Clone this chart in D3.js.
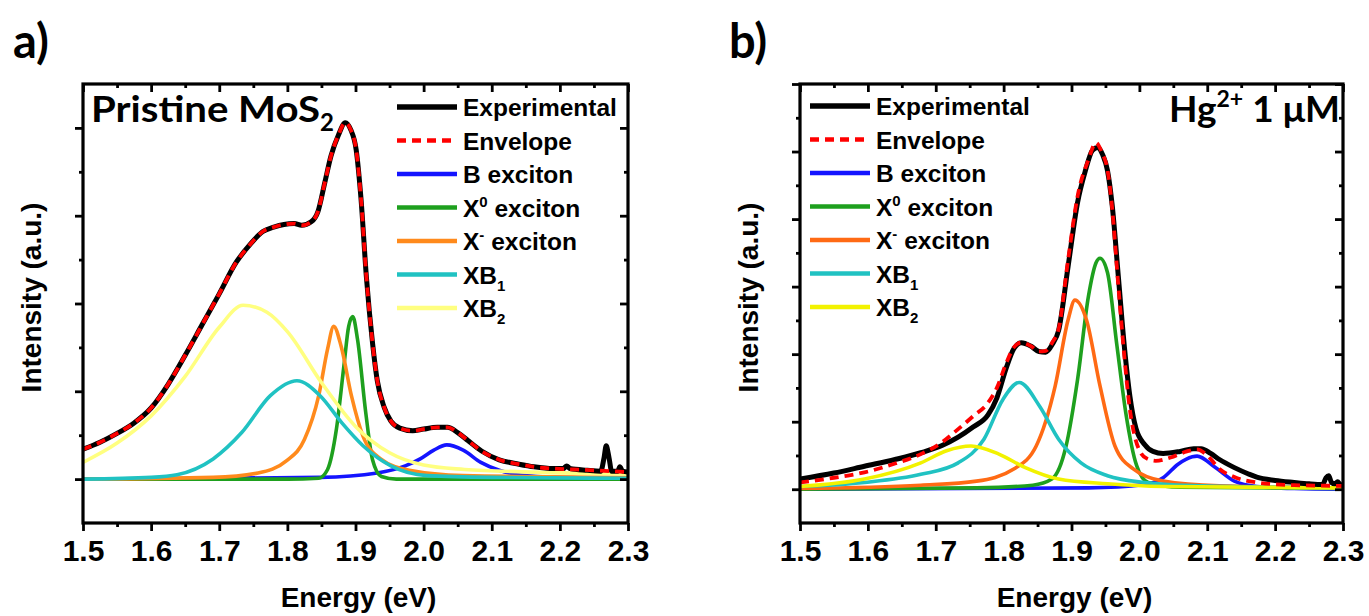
<!DOCTYPE html>
<html><head><meta charset="utf-8">
<script src="https://cdn.jsdelivr.net/npm/d3@7"></script>
<style>body{margin:0;background:#fff;} svg{display:block;}</style>
</head><body><svg id="c" width="1369" height="616"></svg>
<script>
// ---------- DATA ----------
const xTicks = [1.5, 1.6, 1.7, 1.8, 1.9, 2.0, 2.1, 2.2, 2.3];
const xMinorTicks = [1.55, 1.65, 1.75, 1.85, 1.95, 2.05, 2.15, 2.25];
const yDomainA = [-0.5, 4.5];
const yDomainB = [-0.5, 6];

// Panel a: Pristine MoS2  [energy eV, intensity a.u.]
const aExperimental = [[1.5,0.34],[1.525,0.42],[1.55,0.52],[1.575,0.64],[1.6,0.81],[1.625,1.08],[1.65,1.41],[1.675,1.76],[1.7,2.11],[1.725,2.47],[1.745,2.67],[1.764,2.82],[1.78,2.87],[1.795,2.90],[1.81,2.91],[1.821,2.89],[1.835,2.93],[1.845,3.05],[1.855,3.38],[1.864,3.68],[1.875,3.92],[1.885,4.06],[1.893,3.98],[1.901,3.75],[1.908,3.2],[1.916,2.3],[1.925,1.55],[1.932,1.12],[1.942,0.82],[1.952,0.66],[1.965,0.58],[1.984,0.55],[2.0,0.57],[2.02,0.59],[2.035,0.59],[2.05,0.53],[2.065,0.44],[2.085,0.32],[2.111,0.22],[2.14,0.17],[2.162,0.14],[2.19,0.12],[2.205,0.12],[2.21,0.15],[2.215,0.12],[2.24,0.10],[2.26,0.09],[2.265,0.25],[2.268,0.38],[2.272,0.25],[2.276,0.09],[2.285,0.09],[2.288,0.14],[2.292,0.09],[2.3,0.08]];
const aEnvelope = [[1.5,0.34],[1.525,0.42],[1.55,0.52],[1.575,0.64],[1.6,0.81],[1.625,1.08],[1.65,1.41],[1.675,1.76],[1.7,2.11],[1.725,2.47],[1.745,2.67],[1.764,2.82],[1.78,2.87],[1.795,2.90],[1.81,2.91],[1.821,2.89],[1.835,2.93],[1.845,3.05],[1.855,3.38],[1.864,3.68],[1.875,3.92],[1.885,4.06],[1.893,3.98],[1.901,3.75],[1.908,3.2],[1.916,2.3],[1.925,1.55],[1.932,1.12],[1.942,0.82],[1.952,0.66],[1.965,0.58],[1.984,0.55],[2.0,0.57],[2.02,0.59],[2.035,0.59],[2.05,0.53],[2.065,0.44],[2.085,0.32],[2.111,0.22],[2.14,0.17],[2.162,0.14],[2.19,0.12],[2.22,0.11],[2.25,0.10],[2.3,0.08]];
const aBexciton = [[1.5,0.0],[1.7,0.01],[1.848,0.02],[1.932,0.07],[1.973,0.15],[1.995,0.23],[2.015,0.33],[2.034,0.39],[2.058,0.33],[2.084,0.19],[2.111,0.10],[2.14,0.05],[2.2,0.02],[2.3,0.01]];
const aX0 = [[1.5,0.0],[1.8,0.0],[1.846,0.01],[1.859,0.11],[1.872,0.57],[1.883,1.29],[1.890,1.74],[1.896,1.85],[1.903,1.59],[1.915,0.76],[1.925,0.22],[1.938,0.03],[1.96,0.0],[2.3,0.0]];
const aXminus = [[1.5,0.0],[1.691,0.02],[1.757,0.07],[1.799,0.21],[1.825,0.45],[1.846,0.95],[1.859,1.48],[1.868,1.74],[1.879,1.51],[1.894,0.95],[1.911,0.49],[1.937,0.23],[1.979,0.10],[2.058,0.04],[2.3,0.02]];
const aXB1 = [[1.5,0.0],[1.6,0.02],[1.638,0.05],[1.691,0.23],[1.733,0.53],[1.775,0.95],[1.814,1.12],[1.848,0.95],[1.880,0.64],[1.911,0.38],[1.952,0.15],[2.005,0.04],[2.1,0.02],[2.3,0.01]];
const aXB2 = [[1.5,0.19],[1.55,0.41],[1.6,0.72],[1.65,1.17],[1.7,1.73],[1.735,1.98],[1.77,1.90],[1.8,1.68],[1.85,1.10],[1.9,0.60],[1.95,0.30],[2.0,0.16],[2.06,0.11],[2.16,0.08],[2.3,0.06]];

// Panel b: Hg2+ 1 uM
const bExperimental = [[1.5,0.15],[1.55,0.24],[1.595,0.34],[1.64,0.44],[1.678,0.54],[1.71,0.65],[1.733,0.77],[1.755,0.92],[1.777,1.10],[1.79,1.35],[1.804,1.80],[1.815,2.08],[1.826,2.17],[1.84,2.12],[1.852,2.04],[1.862,2.03],[1.872,2.15],[1.881,2.35],[1.895,3.3],[1.909,4.25],[1.92,4.7],[1.931,5.02],[1.939,5.06],[1.946,4.95],[1.953,4.72],[1.96,4.2],[1.969,3.15],[1.978,2.1],[1.986,1.38],[1.995,0.9],[2.008,0.66],[2.02,0.56],[2.035,0.53],[2.06,0.56],[2.08,0.6],[2.091,0.6],[2.105,0.53],[2.118,0.44],[2.14,0.32],[2.16,0.23],[2.173,0.18],[2.2,0.13],[2.228,0.10],[2.25,0.08],[2.27,0.07],[2.275,0.17],[2.279,0.2],[2.283,0.1],[2.288,0.08],[2.292,0.11],[2.296,0.07],[2.3,0.06]];
const bEnvelope = [[1.5,0.10],[1.55,0.17],[1.595,0.25],[1.64,0.38],[1.678,0.52],[1.71,0.70],[1.733,0.89],[1.755,1.08],[1.777,1.28],[1.79,1.50],[1.804,1.87],[1.815,2.10],[1.826,2.17],[1.84,2.12],[1.852,2.04],[1.862,2.05],[1.872,2.18],[1.881,2.37],[1.895,3.4],[1.909,4.34],[1.925,4.88],[1.936,5.13],[1.945,4.98],[1.953,4.73],[1.96,4.15],[1.969,3.01],[1.978,1.95],[1.986,1.18],[1.994,0.75],[2.002,0.54],[2.012,0.45],[2.024,0.42],[2.046,0.47],[2.07,0.56],[2.085,0.59],[2.1,0.50],[2.118,0.30],[2.14,0.18],[2.173,0.10],[2.228,0.06],[2.3,0.05]];
const bBexciton = [[1.5,0.0],[1.925,0.02],[2.008,0.07],[2.035,0.17],[2.057,0.37],[2.078,0.48],[2.085,0.49],[2.112,0.32],[2.14,0.12],[2.173,0.04],[2.228,0.01],[2.3,0.0]];
const bX0 = [[1.5,0.0],[1.76,0.02],[1.843,0.06],[1.871,0.15],[1.892,0.64],[1.909,1.63],[1.925,2.86],[1.936,3.35],[1.942,3.42],[1.953,3.21],[1.967,2.12],[1.980,1.13],[1.996,0.35],[2.013,0.10],[2.06,0.03],[2.3,0.01]];
const bXminus = [[1.5,0.01],[1.678,0.06],[1.76,0.12],[1.815,0.30],[1.848,0.64],[1.876,1.53],[1.895,2.51],[1.905,2.80],[1.922,2.51],[1.942,1.53],[1.964,0.64],[1.991,0.30],[2.035,0.12],[2.118,0.05],[2.3,0.02]];
const bXB1 = [[1.5,0.04],[1.595,0.10],[1.678,0.22],[1.733,0.39],[1.771,0.74],[1.799,1.33],[1.823,1.58],[1.853,1.23],[1.881,0.74],[1.914,0.39],[1.953,0.20],[2.008,0.10],[2.091,0.05],[2.3,0.02]];
const bXB2 = [[1.5,0.04],[1.595,0.15],[1.678,0.39],[1.716,0.57],[1.752,0.64],[1.793,0.52],[1.832,0.32],[1.881,0.15],[1.953,0.08],[2.035,0.04],[2.3,0.02]];

const legendLabels = [
  [{t:"Experimental"}],
  [{t:"Envelope"}],
  [{t:"B exciton"}],
  [{t:"X"},{t:"0",s:"sup"},{t:" exciton"}],
  [{t:"X"},{t:"-",s:"sup"},{t:" exciton"}],
  [{t:"XB"},{t:"1",s:"sub"}],
  [{t:"XB"},{t:"2",s:"sub"}]
];

// ---------- STYLE / LAYOUT ----------
const svg = d3.select("#c");
const styleA = [
  {data:aExperimental, color:"#000000", w:5, dash:null},
  {data:aEnvelope, color:"#ff0000", w:3.8, dash:"9,6"},
  {data:aBexciton, color:"#1414ff", w:3.6, dash:null},
  {data:aX0, color:"#1ea01e", w:3.6, dash:null},
  {data:aXminus, color:"#ff8a1c", w:3.6, dash:null},
  {data:aXB1, color:"#20c2c2", w:3.6, dash:null},
  {data:aXB2, color:"#ffff80", w:3.6, dash:null}
];
const styleB = [
  {data:bExperimental, color:"#000000", w:5, dash:null},
  {data:bEnvelope, color:"#ff0000", w:3.8, dash:"9,6"},
  {data:bBexciton, color:"#1414ff", w:3.6, dash:null},
  {data:bX0, color:"#1ea01e", w:3.6, dash:null},
  {data:bXminus, color:"#ff6a14", w:3.6, dash:null},
  {data:bXB1, color:"#20c2c2", w:3.6, dash:null},
  {data:bXB2, color:"#f2f200", w:3.6, dash:null}
];

const FONT = "'Liberation Sans', Arial, sans-serif";
const TFONT = "Lato, 'Open Sans', sans-serif";

function drawPanel(id, cfg){
  const g = svg.append("g");
  const x = d3.scaleLinear().domain([1.5,2.3]).range([cfg.left, cfg.right]);
  const y = d3.scaleLinear().domain(cfg.yDomain).range([cfg.bottom, cfg.top]);
  const yMajor = d3.range(0, cfg.yDomain[1]+0.001, 1);
  const yMinor = d3.range(0.5, cfg.yDomain[1], 1);

  g.append("clipPath").attr("id","clip"+id).append("rect")
    .attr("x",cfg.left).attr("y",cfg.top).attr("width",cfg.right-cfg.left).attr("height",cfg.bottom-cfg.top);

  const line = d3.line().x(d=>x(d[0])).y(d=>y(d[1])).curve(d3.curveMonotoneX);
  const plot = g.append("g").attr("clip-path","url(#clip"+id+")");
  const order = [2,3,4,5,6,0,1];
  order.forEach(i=>{
    const s = cfg.series[i];
    plot.append("path").datum(s.data).attr("d",line)
      .attr("fill","none").attr("stroke",s.color).attr("stroke-width",s.w)
      .attr("stroke-linejoin","round")
      .attr("stroke-dasharray",s.dash);
  });

  // axes
  const tickStyle = a => { a.select(".domain").remove(); a.selectAll("line").attr("stroke","#000").attr("stroke-width",2.8); };
  const bx = g.append("g").attr("transform",`translate(0,${cfg.bottom})`)
    .call(d3.axisBottom(x).tickValues(xTicks).tickSize(8).tickPadding(9).tickFormat(d3.format(".1f")));
  tickStyle(bx);
  bx.selectAll("text").attr("font-family",FONT).attr("font-weight","bold").attr("font-size",30).attr("fill","#000");
  const bxm = g.append("g").attr("transform",`translate(0,${cfg.bottom})`)
    .call(d3.axisBottom(x).tickValues(xMinorTicks).tickSize(4).tickFormat(""));
  tickStyle(bxm);
  const tx = g.append("g").attr("transform",`translate(0,${cfg.top})`)
    .call(d3.axisTop(x).tickValues(xTicks).tickSize(-8).tickFormat(""));
  tickStyle(tx);
  const txm = g.append("g").attr("transform",`translate(0,${cfg.top})`)
    .call(d3.axisTop(x).tickValues(xMinorTicks).tickSize(-4).tickFormat(""));
  tickStyle(txm);
  const ly = g.append("g").attr("transform",`translate(${cfg.left},0)`)
    .call(d3.axisLeft(y).tickValues(yMajor).tickSize(8).tickFormat(""));
  tickStyle(ly);
  const lym = g.append("g").attr("transform",`translate(${cfg.left},0)`)
    .call(d3.axisLeft(y).tickValues(yMinor).tickSize(4).tickFormat(""));
  tickStyle(lym);
  const ry = g.append("g").attr("transform",`translate(${cfg.right},0)`)
    .call(d3.axisRight(y).tickValues(yMajor).tickSize(-8).tickFormat(""));
  tickStyle(ry);
  const rym = g.append("g").attr("transform",`translate(${cfg.right},0)`)
    .call(d3.axisRight(y).tickValues(yMinor).tickSize(-4).tickFormat(""));
  tickStyle(rym);

  g.append("rect").attr("x",cfg.left).attr("y",cfg.top)
    .attr("width",cfg.right-cfg.left).attr("height",cfg.bottom-cfg.top)
    .attr("fill","none").attr("stroke","#000").attr("stroke-width",3.2);

  // axis titles
  g.append("text").attr("x",(cfg.left+cfg.right)/2+3).attr("y",607)
    .attr("text-anchor","middle").attr("font-family",FONT).attr("font-weight","bold")
    .attr("font-size",28).text("Energy (eV)");
  g.append("text").attr("transform",`translate(${cfg.yTitleX},${(cfg.top+cfg.bottom)/2-6}) rotate(-90)`)
    .attr("text-anchor","middle").attr("font-family",FONT).attr("font-weight","bold")
    .attr("font-size",28).text("Intensity (a.u.)");

  // panel letter
  g.append("text").attr("x",cfg.letterX).attr("y",58).attr("font-family",TFONT)
    .attr("font-weight","bold").attr("font-size",47).text(cfg.letter);

  // legend
  legendLabels.forEach((lab,i)=>{
    const s = cfg.series[i];
    const yy = cfg.legY + i*33.5;
    g.append("line").attr("x1",cfg.legX).attr("x2",cfg.legX+60).attr("y1",yy).attr("y2",yy)
      .attr("stroke",s.color).attr("stroke-width", i===0?5.5:4.5).attr("stroke-dasharray",s.dash);
    const t = g.append("text").attr("x",cfg.legX+66).attr("y",yy+9)
      .attr("font-family",FONT).attr("font-weight","bold").attr("font-size",24.5);
    lab.forEach((p,k)=>{
      const ts = t.append("tspan").text(p.t);
      if(p.s==="sup") ts.attr("font-size",15).attr("dy",-10);
      else if(p.s==="sub") ts.attr("font-size",15).attr("dy",7);
      else if(k>0) ts.attr("dy",10);
    });
  });

  // inset title
  cfg.title(g);
}

drawPanel("a",{left:83,right:628,top:84,bottom:523,yDomain:yDomainA,series:styleA,
  yTitleX:41, letter:"a)", letterX:13, legX:397, legY:107,
  title: g=>{
    const t = g.append("text").attr("x",91).attr("y",122).attr("font-family",TFONT)
      .attr("font-weight","bold").attr("font-size",36);
    t.append("tspan").text("Pristine MoS").attr("textLength",229).attr("lengthAdjust","spacingAndGlyphs");
    t.append("tspan").text("2").attr("font-size",24).attr("dy",9);
  }});
drawPanel("b",{left:800,right:1343,top:84,bottom:523,yDomain:yDomainB,series:styleB,
  yTitleX:758, letter:"b)", letterX:729, legX:810, legY:106,
  title: g=>{
    const t = g.append("text").attr("x",1340).attr("y",122).attr("text-anchor","end").attr("font-family",TFONT)
      .attr("font-weight","bold").attr("font-size",37);
    t.append("tspan").text("Hg");
    t.append("tspan").text("2+").attr("font-size",23).attr("dy",-15);
    t.append("tspan").text(" 1 μM").attr("dy",15);
  }});
</script></body></html>
